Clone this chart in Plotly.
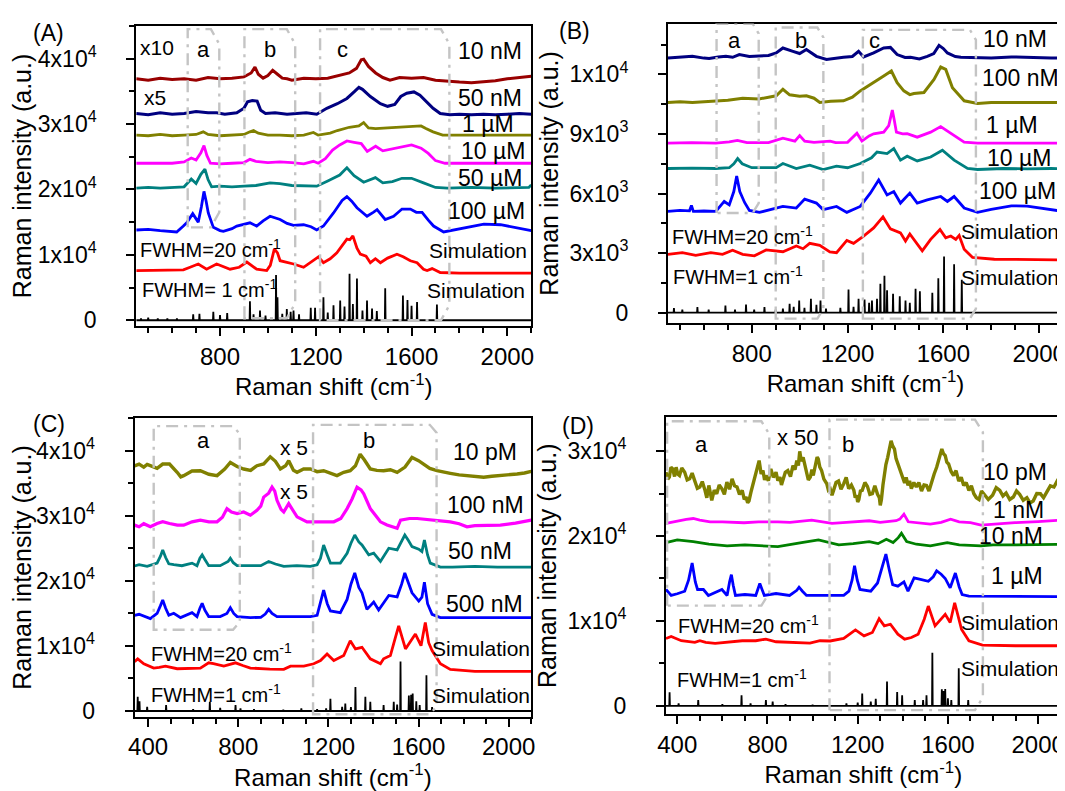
import plotly.graph_objects as go

W, H = 1065, 791

# ---------------- Panel A data (Raman shift cm-1, intensity a.u.) ----------------
A_10NM = [(450,36900),(500,36700),(550,37000),(600,36800),(650,36900),(700,36700),(750,37100),(800,36900),(850,37000),(900,37200),
          (930,37800),(946,38700),(960,37600),(980,37000),(1000,37400),(1020,38200),(1040,37600),(1060,37000),(1080,36900),(1100,36700),
          (1150,37000),(1200,36900),(1250,37000),(1300,37400),(1340,37800),(1370,38500),(1390,39800),(1400,39900),(1420,38800),(1450,37800),
          (1480,37100),(1510,36700),(1550,37100),(1600,37000),(1650,37100),(1700,36700),(1750,36500),(1800,36400),(1850,36300),(1900,36400),
          (1950,36600),(2000,36900),(2050,37100),(2100,37300)]
A_50NM = [(450,31600),(500,31400),(550,31700),(600,31500),(650,31600),(700,31900),(750,31700),(786,31700),(820,31500),(870,31700),
          (900,32400),(915,33400),(935,33600),(955,33500),(970,32100),(990,31600),(1030,31700),(1080,31500),(1120,31600),(1160,31700),
          (1204,31500),(1246,32400),(1290,33100),(1330,33900),(1360,34900),(1380,35600),(1395,35300),(1428,34200),(1470,33100),(1500,32700),
          (1530,33000),(1555,34200),(1580,34700),(1610,34900),(1635,34400),(1660,33500),(1690,32400),(1720,31600),(1760,31400),(1800,31500),
          (1850,31400),(1900,31500),(1950,31400),(2000,31500),(2050,31600),(2100,31500)]
A_1UM = [(450,28300),(500,28200),(550,28400),(600,28200),(650,28300),(700,28400),(730,28800),(750,28400),(800,28200),(850,28300),
         (900,28400),(925,28800),(940,29000),(960,28600),(1000,28300),(1050,28300),(1100,28200),(1150,28300),(1190,28700),(1210,28300),
         (1230,28400),(1260,28600),(1290,29000),(1340,29500),(1380,29700),(1400,30200),(1420,29400),(1450,29300),(1500,29400),(1550,29500),
         (1600,29600),(1640,29700),(1660,29300),(1690,28800),(1730,28300),(1800,28300),(1900,28200),(2000,28300),(2100,28300)]
A_10UM = [(450,24000),(500,24000),(550,24100),(600,24000),(650,24200),(680,24800),(700,24500),(720,25600),(733,26700),(745,25200),
          (760,24000),(800,23900),(850,24000),(900,24100),(925,24600),(950,24300),(1000,24100),(1050,24200),(1100,24100),(1150,23900),
          (1190,24300),(1210,24000),(1240,24700),(1270,26000),(1300,26800),(1330,27400),(1360,27200),(1390,27000),(1415,25800),(1450,26600),
          (1480,25900),(1520,26200),(1560,26500),(1600,26800),(1640,26300),(1670,25500),(1700,24400),(1740,24000),(1800,24000),(1900,24000),
          (2000,24000),(2100,24000)]
A_50UM = [(450,20200),(500,20300),(550,20200),(600,20300),(650,20400),(680,21600),(700,20900),(720,22300),(737,23100),(750,21500),
          (765,20400),(800,20500),(850,20400),(900,20500),(950,20600),(1009,21000),(1050,20900),(1100,20600),(1150,20500),(1204,20500),
          (1250,21300),(1300,22200),(1330,23300),(1360,22100),(1400,21100),(1449,21800),(1480,21000),(1520,21200),(1560,21700),(1600,21700),
          (1650,21000),(1700,20300),(1750,20200),(1850,20300),(1950,20200),(2050,20300),(2090,20300),(2100,20700)]
A_100UM = [(450,13800),(500,13900),(550,13700),(600,13600),(619,13500),(647,14400),(661,14900),(686,16300),(700,15400),(709,15000),
           (722,17300),(733,19700),(742,18200),(751,16400),(772,14200),(800,13700),(814,13600),(850,14000),(870,14400),(925,14900),
           (953,14400),(980,15200),(1009,15900),(1051,15400),(1080,14800),(1107,14500),(1149,14600),(1180,14300),(1204,13800),(1232,14400),
           (1274,16400),(1310,18300),(1330,18900),(1350,18200),(1372,17200),(1414,15900),(1440,16500),(1456,16900),(1490,15400),(1525,15900),
           (1560,17000),(1595,17000),(1620,16500),(1644,16500),(1670,15300),(1692,14400),(1734,13500),(1804,14000),(1850,14400),(1902,14700),
           (1972,14600),(2044,14100),(2100,13700)]
A_SIM20 = [(450,7600),(550,7700),(647,7700),(675,8100),(709,8600),(744,7800),(786,8600),(842,7800),(880,8100),(912,8900),
           (953,7800),(995,7600),(1010,8400),(1027,10900),(1040,10300),(1051,9100),(1107,8600),(1149,8100),(1176,8800),(1211,9700),
           (1232,8800),(1260,9400),(1288,10300),(1310,11400),(1330,12400),(1342,12300),(1355,12900),(1372,11000),(1386,10100),(1410,9800),
           (1428,8800),(1449,9400),(1470,8800),(1500,9500),(1539,10100),(1565,9700),(1595,9100),(1623,8800),(1650,7800),(1665,7600),
           (1686,7900),(1720,7300),(1800,7200),(2100,7200)]
A_STICK_POS = [470,500,540,580,620,688,714,772,800,830,925,940,967,990,1034,1040,1060,1079,1095,1107,1130,1179,1197,1232,1250,
               1274,1302,1320,1341,1355,1372,1395,1414,1435,1455,1490,1564,1583,1600,1623,1706]
A_STICK_H = [300,400,300,300,300,900,1000,1300,800,1100,2900,900,1500,700,6900,3500,1000,1700,1300,1500,900,1900,1900,3500,1200,
             2300,3000,2100,7100,2500,6400,1500,3000,1800,1400,4900,3800,3100,2200,2800,2400]

# ---------------- Panel B data ----------------
B_10NM = [(450,12830),(500,12860),(552,12910),(600,12820),(622,12800),(660,12880),(692,12910),(720,12860),(748,13000),(790,12900),
          (832,12910),(870,12950),(902,13080),(930,13330),(972,13160),(1000,13050),(1028,13250),(1070,12910),(1112,12750),(1150,12820),
          (1183,12860),(1220,12900),(1246,13160),(1267,12880),(1309,13080),(1351,13330),(1379,13360),(1407,13000),(1440,12850),(1463,12860),
          (1500,12780),(1533,12910),(1560,13050),(1582,13460),(1600,13300),(1617,13080),(1650,12900),(1673,12860),(1743,12860),(1800,12830),
          (1884,12880),(1950,12850),(2000,12860),(2050,12830),(2100,12830)]
B_100NM = [(450,10590),(500,10620),(552,10590),(622,10640),(700,10700),(762,10800),(830,10760),(902,10920),(930,11250),(958,10970),
           (1000,10900),(1028,10920),(1060,10800),(1084,10590),(1130,10650),(1183,10670),(1220,10850),(1253,11170),(1309,11580),(1351,11920),
           (1383,12170),(1407,11580),(1435,11170),(1460,10980),(1477,11040),(1519,11090),(1561,11750),(1589,12370),(1610,12250),(1638,11330),
           (1687,10670),(1743,10540),(1800,10590),(1884,10590),(1950,10560),(2050,10590),(2100,10590)]
B_1UM = [(450,8540),(550,8560),(650,8540),(706,8600),(740,8680),(780,8560),(870,8560),(930,8790),(980,8640),(1000,8920),
         (1021,8640),(1060,8580),(1127,8640),(1150,8560),(1200,8580),(1239,9040),(1260,8640),(1290,8900),(1309,9010),(1351,9090),
         (1372,9420),(1380,9800),(1387,10200),(1395,9700),(1404,9090),(1430,9000),(1449,9010),(1491,8840),(1547,9090),(1589,9370),
         (1631,9040),(1687,8590),(1743,8540),(1850,8540),(1950,8540),(2050,8540),(2100,8540)]
B_10UM = [(450,7260),(550,7280),(650,7260),(706,7300),(725,7500),(741,7760),(760,7500),(800,7300),(902,7300),(930,7510),
          (986,7260),(1042,7430),(1098,7210),(1154,7380),(1200,7300),(1253,7510),(1300,7800),(1323,8090),(1365,8010),(1393,8260),
          (1421,7680),(1449,7880),(1491,7640),(1547,7840),(1596,8180),(1645,7680),(1701,7260),(1743,7210),(1850,7260),(1950,7240),
          (2050,7260),(2100,7250)]
B_100UM = [(450,5100),(500,5150),(540,5130),(548,5400),(556,5100),(600,5120),(650,5100),(685,5600),(706,5430),(725,6100),
           (737,6880),(750,6100),(770,5550),(790,5150),(832,5050),(902,5270),(930,5350),(986,5270),(1021,5720),(1070,5520),
           (1098,5190),(1154,5350),(1197,5050),(1253,5350),(1295,6020),(1330,6680),(1365,5930),(1393,6100),(1421,5520),(1460,6020),
           (1491,5520),(1533,5680),(1589,5850),(1617,5600),(1645,5850),(1687,5270),(1743,5050),(1800,5200),(1884,5380),(1950,5370),
           (2020,5250),(2100,5100)]
B_SIM20 = [(450,2940),(510,3020),(566,2890),(629,3020),(678,2940),(720,3140),(762,2940),(811,2860),(860,3160),(930,3070),
           (986,3360),(1014,3220),(1042,3490),(1084,3390),(1126,3060),(1154,3020),(1197,3640),(1225,3490),(1267,3860),(1309,4270),
           (1348,4820),(1379,4220),(1421,4020),(1442,3610),(1460,3960),(1477,3690),(1512,3110),(1547,3690),(1586,4190),(1610,3770),
           (1631,3860),(1652,3690),(1666,3890),(1687,3190),(1722,2780),(1813,2690),(1950,2670),(2100,2660)]
B_STICK_POS = [475,510,573,620,690,730,776,810,853,900,930,958,975,998,1020,1047,1070,1087,1110,1170,1204,1225,1246,1271,1290,
               1302,1323,1337,1354,1365,1390,1418,1442,1460,1484,1502,1554,1579,1603,1645,1677]
B_STICK_H = [230,150,280,150,360,150,410,150,280,150,200,450,300,610,250,700,400,610,200,250,1160,300,700,660,500,
             610,700,1450,1860,1130,950,830,610,500,1200,1080,1000,1730,2830,2440,1660]

# ---------------- Panel C data ----------------
C_10PM = [(340,37700),(360,37970),(381,37500),(396,37900),(410,37720),(440,37300),(465,37970),(495,37970),(529,36700),(545,36000),
          (558,36190),(595,36900),(632,36950),(670,36400),(706,36190),(740,37200),(765,38220),(795,37600),(824,37210),(855,37000),
          (883,37720),(913,38000),(942,39090),(965,38400),(987,37210),(1010,37700),(1024,38480),(1045,37000),(1061,36700),(1090,37200),
          (1120,37210),(1150,36800),(1179,36950),(1210,36600),(1238,36190),(1268,36700),(1297,36950),(1320,37700),(1341,39490),(1360,38600),
          (1386,37210),(1415,37000),(1445,36950),(1475,37100),(1505,36700),(1540,37500),(1571,38990),(1600,38500),(1623,37970),(1650,37300),
          (1682,36950),(1710,36700),(1741,36550),(1780,36300),(1815,36190),(1850,36000),(1889,35940),(1925,36100),(1963,36190),(2000,36400),
          (2037,36450),(2070,36600),(2100,36850)]
C_100NM = [(340,28580),(360,28330),(381,28800),(410,28330),(440,28830),(465,29100),(495,28830),(530,28580),(558,28580),(595,29090),
           (632,29340),(670,29090),(706,29090),(730,29800),(750,31120),(770,30600),(795,30360),(824,30600),(854,30100),(883,30860),
           (900,31500),(913,32890),(935,33500),(950,34420),(962,33800),(972,32390),(990,31000),(1002,30610),(1024,31880),(1040,31000),
           (1061,29850),(1105,29090),(1150,29090),(1190,29090),(1224,29090),(1255,29600),(1283,31120),(1305,32600),(1327,34420),(1345,34000),
           (1357,33400),(1386,31120),(1431,29090),(1460,28600),(1490,28330),(1505,28100),(1520,29340),(1560,29600),(1594,29600),(1630,29500),
           (1667,29340),(1700,29200),(1741,29090),(1780,28800),(1815,28330),(1850,28500),(1900,28580),(1963,28580),(2030,28900),(2100,29340)]
C_50NM = [(340,22300),(360,22490),(396,22230),(440,22740),(455,23800),(465,24770),(478,23600),(492,22640),(514,22490),(550,22340),
          (595,22740),(617,22340),(630,23500),(640,24010),(652,23300),(669,22340),(720,22340),(755,23000),(765,23500),(778,22800),
          (795,22340),(854,22340),(900,22340),(935,23000),(965,22600),(1002,22230),(1060,22340),(1120,22230),(1150,22490),(1165,23500),
          (1179,25530),(1195,24000),(1209,22740),(1253,22740),(1283,24260),(1300,25800),(1317,27060),(1335,26000),(1349,25530),(1379,24010),
          (1401,24260),(1431,23000),(1468,25030),(1505,24770),(1525,26000),(1539,27060),(1555,26200),(1571,25280),(1601,24870),(1615,24500),
          (1626,26290),(1640,24000),(1652,22740),(1697,22130),(1750,22130),(1850,22230),(1950,22130),(2050,22130),(2100,22130)]
C_500NM = [(340,14700),(360,14870),(410,14210),(440,15000),(455,16200),(465,17060),(478,15800),(492,14720),(514,15030),(544,14370),
           (595,15130),(617,14520),(630,15800),(640,16550),(652,15500),(669,14520),(720,14520),(750,15000),(765,15890),(780,15000),
           (795,14520),(854,14370),(900,14400),(920,14900),(935,15630),(950,15000),(972,14520),(1060,14520),(1120,14520),(1150,14720),
           (1165,16600),(1179,18580),(1195,16500),(1209,15380),(1253,15130),(1283,17160),(1300,19500),(1317,21220),(1335,19000),(1349,18170),
           (1371,15630),(1401,16750),(1423,15530),(1468,17770),(1505,17560),(1525,19500),(1539,21220),(1555,19800),(1571,18170),(1601,16900),
           (1615,17500),(1626,19800),(1640,16500),(1660,14870),(1697,14370),(1800,14370),(1900,14370),(2000,14370),(2100,14370)]
C_SIM20 = [(340,7600),(354,8020),(381,7260),(425,6600),(450,6700),(477,6900),(529,6500),(632,6600),(669,7410),(690,7300),
           (736,6900),(788,7410),(820,7000),(854,6600),(940,6450),(1002,6400),(1032,6900),(1091,6900),(1135,7260),(1165,7770),
           (1194,8780),(1224,7770),(1268,8530),(1297,10810),(1320,9540),(1349,9800),(1386,8020),(1431,7260),(1445,8020),(1475,8530),
           (1495,11000),(1512,13100),(1542,9540),(1586,11830),(1611,10050),(1630,13600),(1645,10500),(1660,9290),(1697,7260),(1741,6400),
           (1850,6100),(2000,6090),(2100,6090)]
C_STICK_POS = [354,362,396,480,600,674,720,788,810,870,1000,1080,1150,1190,1209,1261,1275,1300,1320,1364,1386,1445,1490,1505,
               1520,1557,1567,1574,1590,1605,1635,1660]
C_STICK_H = [2200,1500,650,900,300,1400,500,900,400,300,200,400,300,400,1900,650,1150,600,3700,2200,1400,900,1400,1000,
             7600,2400,2500,2700,1500,900,5500,600]

# ---------------- Panel D data ----------------
D_10PM = [(350,27510),(358,26700),(365,26930),(372,28100),(380,27900),(388,27000),(395,28090),(402,27300),(410,27120),(420,28000),
          (433,27510),(444,26600),(455,26730),(466,27400),(478,26460),(489,25600),(500,25760),(511,26400),(523,25370),(531,24500),
          (540,25950),(546,25000),(553,24200),(564,25400),(575,24980),(586,26000),(598,25560),(609,24900),(620,26340),(632,25500),
          (643,26730),(654,25900),(665,25760),(676,24900),(688,25370),(697,24300),(705,24590),(712,23900),(718,24120),(728,25300),
          (740,26540),(752,27600),(763,28870),(772,27300),(780,27700),(787,26600),(793,27120),(804,26500),(815,27900),(826,26900),
          (838,27510),(846,26500),(855,26930),(862,26000),(868,26460),(879,27500),(890,27700),(902,27000),(913,28290),(922,27800),
          (930,28870),(937,28300),(943,29960),(950,28800),(958,29260),(966,28200),(973,27630),(981,26600),(990,26930),(997,27800),
          (1003,27120),(1009,27900),(1015,28290),(1020,29300),(1025,29070),(1032,28100),(1040,27700),(1050,26700),(1063,26150),(1070,25400),
          (1078,25560),(1086,24800),(1093,25370),(1104,26300),(1115,26460),(1126,25500),(1138,26150),(1149,26900),(1160,25560),(1172,26000),
          (1183,25370),(1189,24500),(1195,24790),(1200,24000),(1205,24280),(1212,25300),(1220,25370),(1232,26300),(1243,25840),(1254,24900),
          (1265,24980),(1276,25900),(1288,24900),(1296,24500),(1300,23600),(1305,24280),(1312,26000),(1318,27320),(1325,28400),(1333,29260),
          (1340,30400),(1348,31210),(1355,30600),(1363,30230),(1370,29100),(1378,28480),(1385,27800),(1393,27320),(1400,26600),(1408,26230),
          (1415,26900),(1423,25950),(1430,26500),(1438,25560),(1449,26300),(1460,25760),(1471,26300),(1483,25290),(1494,26000),(1505,25950),
          (1516,25300),(1528,26460),(1539,27300),(1550,28090),(1562,29300),(1573,30230),(1580,29700),(1588,29460),(1595,28700),(1603,28480),
          (1614,27600),(1625,27120),(1636,27700),(1648,26460),(1659,26900),(1670,25950),(1681,26300),(1693,25370),(1704,25900),(1715,24980),
          (1726,24500),(1738,24280),(1749,25300),(1760,24980),(1779,24300),(1798,24790),(1814,25700),(1830,25370),(1844,24700),(1858,25060),
          (1874,24300),(1890,24590),(1904,25300),(1918,24900),(1934,24200),(1950,24510),(1964,23900),(1978,24120),(1994,25000),(2010,24980),
          (2024,24500),(2038,25170),(2054,25900),(2070,25760),(2085,26500),(2100,26230)]
D_1NM = [(350,21480),(400,21790),(440,21950),(471,22060),(500,21870),(546,21670),(600,21670),(696,21560),(760,21670),(846,21670),
         (900,21600),(996,21870),(1050,21670),(1086,21480),(1150,21600),(1200,21700),(1251,21790),(1300,21600),(1327,21670),(1370,21800),
         (1387,21980),(1405,22570),(1424,21670),(1460,21600),(1522,21400),(1570,21600),(1612,21980),(1650,21670),(1700,21560),(1747,21280),
         (1800,21400),(1897,21560),(2000,21700),(2100,21870)]
D_10NM = [(350,19220),(400,19530),(471,19340),(540,19030),(621,18830),(700,18950),(846,18750),(900,18950),(951,19220),(1026,19530),
          (1080,19200),(1116,18950),(1180,19100),(1251,19340),(1290,19100),(1327,19610),(1357,19220),(1380,19800),(1394,20310),(1417,19340),
          (1460,19030),(1522,18830),(1597,19220),(1650,18950),(1747,18830),(1800,18950),(1897,18950),(2000,19030),(2100,19030)]
D_1UM = [(350,13700),(373,13000),(400,13200),(433,13500),(450,14800),(466,16810),(480,14600),(490,13700),(516,13700),(538,13000),
         (598,13700),(621,13000),(632,14600),(640,15450),(648,14200),(658,13000),(700,13110),(748,13000),(766,14400),(786,13000),
         (838,13230),(898,13000),(930,13600),(940,13970),(955,13500),(973,13000),(1050,13000),(1138,13000),(1161,13500),(1175,14800),
         (1186,16500),(1198,14800),(1210,13700),(1258,13500),(1288,14470),(1310,16500),(1325,17860),(1340,16000),(1355,14280),(1378,14090),
         (1405,14590),(1423,13500),(1450,15060),(1483,14860),(1513,14670),(1535,15200),(1550,15900),(1570,15500),(1588,15000),(1610,13900),
         (1633,15640),(1650,14000),(1663,13100),(1693,12920),(1800,12920),(1950,12850),(2100,12850)]
D_SIM20 = [(350,7940),(373,8170),(418,7670),(478,7470),(500,7670),(526,7470),(568,7350),(688,7670),(748,7670),(793,7860),
           (838,7550),(988,7390),(1033,7670),(1078,7640),(1138,7940),(1190,8950),(1228,8250),(1265,8640),(1295,10270),(1318,9420),
           (1345,9610),(1378,8440),(1408,7860),(1438,8050),(1468,8440),(1495,10200),(1513,11750),(1543,9420),(1588,10780),(1610,9810),
           (1630,12140),(1645,10600),(1660,9030),(1693,7670),(1753,7160),(1900,7080),(2100,7080)]
D_STICK_POS = [366,406,493,600,685,725,793,823,880,1000,1150,1200,1220,1258,1280,1330,1375,1397,1453,1490,1505,1531,1573,1580,
               1588,1600,1615,1648,1690]
D_STICK_H = [1600,300,700,200,1250,300,700,500,200,150,300,400,1450,500,850,2870,1640,1250,700,700,1250,6260,1950,1750,
             2000,900,700,4440,700]

# highlight boxes (x0, x1, y0, y1) in data units
A_BOXES = [(665, 797, 14200, 44500), (902, 1114, 300, 44500), (1218, 1758, 0, 44500)]
B_BOXES = [(653, 829, 5020, 14550), (900, 1099, -300, 14360), (1264, 1736, -300, 14240)]
C_BOXES = [(425, 807, 12500, 43800), (1132, 1680, -500, 44000)]
D_BOXES = [(355, 808, 11800, 33500), (1075, 1755, -500, 33700)]

# axis ranges
A_XR, A_YR = [450, 2100], [-900, 45000]
B_XR, B_YR = [450, 2100], [-530, 14560]
C_XR, C_YR = [340, 2100], [-870, 45000]
D_XR, D_YR = [350, 2100], [-1000, 34000]

SUP = lambda n: "<sup>%s</sup>" % n
TICKS_1E4 = [0, 10000, 20000, 30000, 40000]
TEXT_1E4 = ["0", "1x10" + SUP(4), "2x10" + SUP(4), "3x10" + SUP(4), "4x10" + SUP(4)]
TICKS_B = [0, 3000, 6000, 9000, 12000]
TEXT_B = ["0", "3x10" + SUP(3), "6x10" + SUP(3), "9x10" + SUP(3), "1x10" + SUP(4)]

FONT = "Liberation Sans, Arial, sans-serif"

# pixel boxes of the four plot frames (left, right, top, bottom)
FRAMES = {"A": (120.7, 520.6, 18, 321), "B": (659, 1059, 15.7, 318),
          "C": (119, 520.6, 414, 715), "D": (657, 1056.6, 412.7, 712.7)}

fig = go.Figure()
AX = {"A": ("x", "y"), "B": ("x2", "y2"), "C": ("x3", "y3"), "D": ("x4", "y4")}
LW = 2.8


def add_line(panel, pairs, color, width=LW):
    xs = [p[0] for p in pairs]
    ys = [p[1] for p in pairs]
    xa, ya = AX[panel]
    fig.add_trace(go.Scatter(x=xs, y=ys, mode="lines", line=dict(color=color, width=width),
                             xaxis=xa, yaxis=ya, showlegend=False, hoverinfo="skip"))


def add_sticks(panel, pos, hts, xr):
    xs, ys = [xr[0]], [0]
    for p, h in sorted(zip(pos, hts)):
        xs += [p - 1.5, p, p + 1.5]
        ys += [0, h, 0]
    xs.append(xr[1])
    ys.append(0)
    xa, ya = AX[panel]
    fig.add_trace(go.Scatter(x=xs, y=ys, mode="lines", line=dict(color="black", width=1.8),
                             xaxis=xa, yaxis=ya, showlegend=False, hoverinfo="skip"))


add_line("A", A_10NM, "#990000", 3.0)
add_line("A", A_50NM, "#000080", 3.0)
add_line("A", A_1UM, "#808000")
add_line("A", A_10UM, "#FF00FF")
add_line("A", A_50UM, "#008080")
add_line("A", A_100UM, "#0000FF")
add_line("A", A_SIM20, "#FF0000")
add_sticks("A", A_STICK_POS, A_STICK_H, A_XR)

add_line("B", B_10NM, "#000080", 3.0)
add_line("B", B_100NM, "#808000", 3.0)
add_line("B", B_1UM, "#FF00FF")
add_line("B", B_10UM, "#008080")
add_line("B", B_100UM, "#0000FF")
add_line("B", B_SIM20, "#FF0000")
add_sticks("B", B_STICK_POS, B_STICK_H, B_XR)

add_line("C", C_10PM, "#808000", 3.4)
add_line("C", C_100NM, "#FF00FF", 3.2)
add_line("C", C_50NM, "#008080")
add_line("C", C_500NM, "#0000FF")
add_line("C", C_SIM20, "#FF0000")
add_sticks("C", C_STICK_POS, C_STICK_H, C_XR)

add_line("D", D_10PM, "#808000", 3.4)
add_line("D", D_1NM, "#FF00FF")
add_line("D", D_10NM, "#008000")
add_line("D", D_1UM, "#0000FF")
add_line("D", D_SIM20, "#FF0000")
add_sticks("D", D_STICK_POS, D_STICK_H, D_XR)

# ---------- dashed highlight boxes ----------
shapes = []


def box_path(b, cx, cy):
    x0, x1, y0, y1 = b
    return ("M %g,%g L %g,%g L %g,%g L %g,%g L %g,%g L %g,%g Z" %
            (x0, y0, x0, y1, x1 - cx, y1, x1, y1 - cy, x1, y0 + cy, x1 - cx, y0))


for panel, boxes, cx, cy in [("A", A_BOXES, 35, 2300), ("B", B_BOXES, 25, 500),
                             ("C", C_BOXES, 30, 1200), ("D", D_BOXES, 35, 1500)]:
    xa, ya = AX[panel]
    for b in boxes:
        shapes.append(dict(type="path", path=box_path(b, cx, cy), xref=xa, yref=ya,
                           line=dict(color="#C4C4C4", width=2.4, dash="12px,6px,3px,6px"), layer="above"))


# ---------- axes ----------
def xaxis(domain, rng, anchor):
    return dict(domain=domain, range=rng, anchor=anchor, showline=True, mirror=True, linecolor="black",
                linewidth=2, ticks="outside", ticklen=8, tickwidth=2, tickcolor="black",
                tickmode="linear", tick0=0, dtick=400, showgrid=False, zeroline=False,
                tickfont=dict(family=FONT, size=24, color="black"), ticklabelstandoff=0,
                minor=dict(ticks="outside", ticklen=5, tickwidth=1.5, tickcolor="black",
                           tickmode="linear", tick0=0, dtick=100, showgrid=False),
                title=dict(text="Raman shift (cm" + SUP("-1") + ")", standoff=0,
                           font=dict(family=FONT, size=24, color="black")))


def yaxis(domain, rng, anchor, tv, tt, minor_step):
    minors = [v + minor_step for v in tv]
    return dict(domain=domain, range=rng, anchor=anchor, showline=True, mirror=True, linecolor="black",
                linewidth=2, ticks="outside", ticklen=8, tickwidth=2, tickcolor="black",
                tickmode="array", tickvals=tv, ticktext=tt, showgrid=False, zeroline=False,
                tickfont=dict(family=FONT, size=23, color="black"), ticklabelstandoff=25,
                minor=dict(ticks="outside", ticklen=5, tickwidth=1.5, tickcolor="black",
                           tickmode="array", tickvals=minors, showgrid=False),
                title=dict(text="Raman intensity (a.u.)", standoff=4,
                           font=dict(family=FONT, size=25, color="black")))


def dom_x(panel):
    l, r, t, b = FRAMES[panel]
    return [l / W, r / W]


def dom_y(panel):
    l, r, t, b = FRAMES[panel]
    return [1 - b / H, 1 - t / H]


layout = dict(
    width=W, height=H, margin=dict(l=0, r=0, t=0, b=0),
    paper_bgcolor="white", plot_bgcolor="white", showlegend=False,
    font=dict(family=FONT, size=22, color="black"),
    xaxis=xaxis(dom_x("A"), A_XR, "y"),
    yaxis=yaxis(dom_y("A"), A_YR, "x", TICKS_1E4, TEXT_1E4, 5000),
    xaxis2=xaxis(dom_x("B"), B_XR, "y2"),
    yaxis2=yaxis(dom_y("B"), B_YR, "x2", TICKS_B, TEXT_B, 1500),
    xaxis3=xaxis(dom_x("C"), C_XR, "y3"),
    yaxis3=yaxis(dom_y("C"), C_YR, "x3", TICKS_1E4, TEXT_1E4, 5000),
    xaxis4=xaxis(dom_x("D"), D_XR, "y4"),
    yaxis4=yaxis(dom_y("D"), D_YR, "x4", TICKS_1E4[:4], TEXT_1E4[:4], 5000),
    shapes=shapes,
)
fig.update_layout(**layout)

# ---------- text labels (pixel positions on the page) ----------
CM = " cm" + SUP("-1")
LABELS = [
    # panel A
    ("(A)", 32, 25, "center", 23), ("x10", 142, 40, "center", 21), ("a", 188.6, 41.7, "center", 22),
    ("b", 256, 41.7, "center", 22), ("c", 329.6, 41.7, "center", 22), ("x5", 140, 90.7, "center", 21),
    ("10 nM", 512, 43, "right", 23), ("50 nM", 512, 90.7, "right", 23), ("1 µM", 503.7, 117, "right", 23),
    ("10 µM", 515.6, 144, "right", 23), ("50 µM", 512, 171.7, "right", 23), ("100 µM", 515.6, 205, "right", 23),
    ("Simulation", 517, 245, "right", 21), ("FWHM=20" + CM, 123.4, 242.7, "left", 20),
    ("FWHM= 1" + CM, 125.8, 283, "left", 20), ("Simulation", 515.6, 285, "right", 21),
    # panel B
    ("(B)", 564, 23, "center", 23), ("a", 726, 33, "center", 22), ("b", 793.5, 33, "center", 22),
    ("c", 868, 33, "center", 22), ("10 nM", 1043.6, 31.7, "right", 23), ("100 nM", 1055.6, 70.7, "right", 23),
    ("1 µM", 1034.4, 118.3, "right", 23), ("10 µM", 1048, 151.7, "right", 23), ("100 µM", 1052.9, 185, "right", 23),
    ("Simulation", 1055.6, 225, "right", 21), ("FWHM=20" + CM, 662.4, 230, "left", 20),
    ("FWHM=1" + CM, 663, 270, "left", 20), ("Simulation", 1055.6, 271.7, "right", 21),
    # panel C
    ("(C)", 32, 420, "center", 23), ("a", 189, 436.7, "center", 22), ("x 5", 280.6, 443.3, "center", 21),
    ("b", 356.7, 436.7, "center", 22), ("x 5", 280.6, 488.3, "center", 21), ("10 pM", 507, 448.3, "right", 23),
    ("100 nM", 514, 501.7, "right", 23), ("50 nM", 502, 548.3, "right", 23), ("500 nM", 513, 601.7, "right", 23),
    ("Simulation", 520.6, 646.7, "right", 21), ("FWHM=20" + CM, 135, 650, "left", 20),
    ("FWHM=1" + CM, 135, 691.7, "left", 20), ("Simulation", 520.6, 693.3, "right", 21),
    # panel D
    ("(D)", 568, 422, "center", 23), ("a", 693, 440, "center", 22), ("x 50", 791, 433, "center", 22),
    ("b", 841, 440, "center", 22), ("10 pM", 1043.6, 468, "right", 23), ("1 nM", 1041, 506.7, "right", 23),
    ("10 nM", 1040, 533, "right", 23), ("1 µM", 1040, 573.3, "right", 23), ("Simulation", 1055.6, 620, "right", 21),
    ("FWHM=20" + CM, 668, 621.7, "left", 20), ("FWHM=1" + CM, 667.5, 676, "left", 20),
    ("Simulation", 1055.6, 666.7, "right", 21),
]
for text, px, py, anchor, size in LABELS:
    fig.add_annotation(text=text, x=px / W, y=1 - py / H, xref="paper", yref="paper",
                       xanchor=anchor, yanchor="middle", showarrow=False, borderpad=0,
                       font=dict(family=FONT, size=size, color="black"))

fig.write_html("out.html")
